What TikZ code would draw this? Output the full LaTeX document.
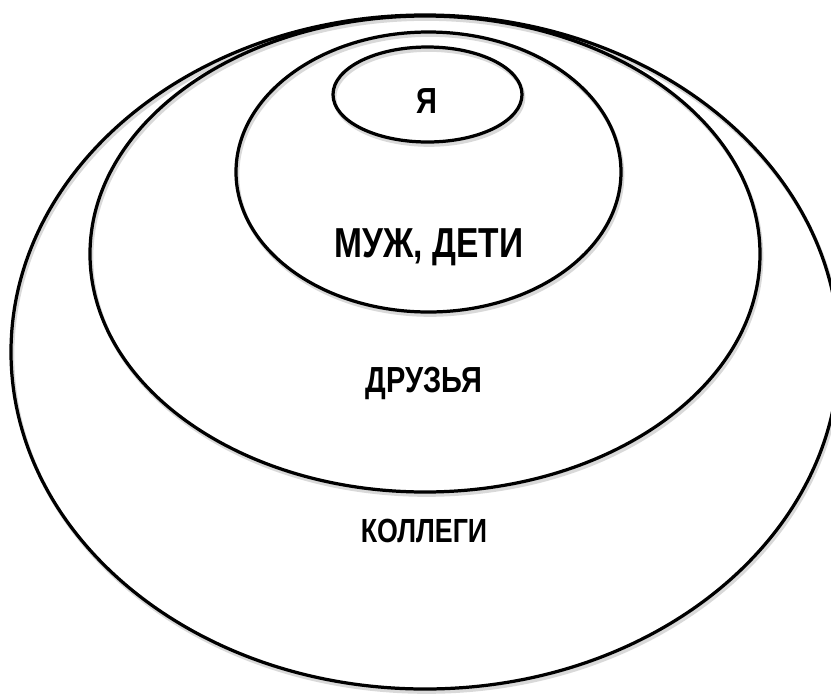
\documentclass[tikz,border=0pt]{standalone}
\usepackage{fontspec}
\newfontfamily\narrowsans{Liberation Sans}[FakeStretch=0.8]
\usepackage{tikz}
\usetikzlibrary{positioning}

\begin{document}
\begin{tikzpicture}[x=0.025cm, y=-0.025cm,
  ring/.style={line width=2.3pt},
  ringshadow/.style={line width=2.6pt, black!15},
  lbl/.style={anchor=base, inner sep=0pt, font=\narrowsans\bfseries}]
  \useasboundingbox (0,0) rectangle (831,693);
  % soft shadow under every ring
  \foreach \cx/\cy/\rx/\ry in {425/352/414/337, 425/254/335/238, 428.5/172/192.5/140, 427.5/94.5/94.5/47.5}
    \draw[ringshadow] (\cx+1.5,\cy+3) ellipse [x radius=\rx, y radius=\ry];
  \foreach \cx/\cy/\rx/\ry in {425/352/414/337, 425/254/335/238, 428.5/172/192.5/140, 427.5/94.5/94.5/47.5}
    \draw[ring] (\cx,\cy) ellipse [x radius=\rx, y radius=\ry];
  \node[lbl, font=\narrowsans\bfseries\fontsize{25.8pt}{30pt}\selectfont] (self) at (427,113){Я};
  \node[lbl, font=\narrowsans\bfseries\fontsize{29.8pt}{34pt}\selectfont] (family) at (429,257){МУЖ, ДЕТИ};
  \node[lbl, font=\narrowsans\bfseries\fontsize{25.8pt}{30pt}\selectfont] (friends) at (424,392){ДРУЗЬЯ};
  \node[lbl, font=\narrowsans\bfseries\fontsize{23.8pt}{28pt}\selectfont] (colleagues) at (424,542){КОЛЛЕГИ};
\end{tikzpicture}
\end{document}
